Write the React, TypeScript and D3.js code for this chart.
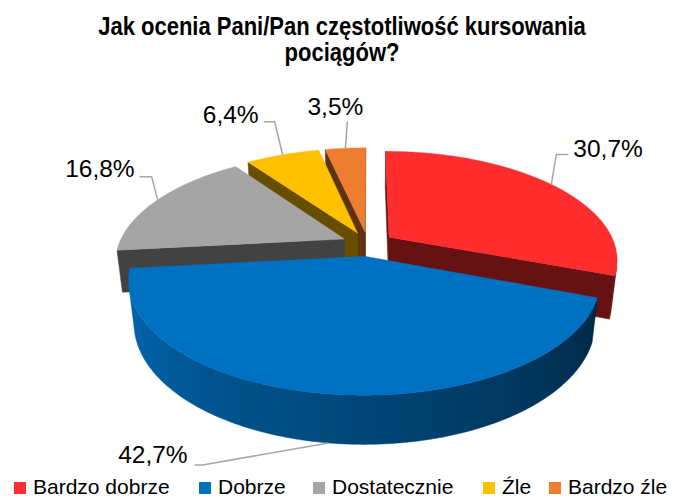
import React from 'react';
import * as d3 from 'd3';

// ---- data ----
const categories = ['Bardzo dobrze', 'Dobrze', 'Dostatecznie', 'Źle', 'Bardzo źle'];
const values = [30.7, 42.7, 16.8, 6.4, 3.5];
const valueLabels = ['30,7%', '42,7%', '16,8%', '6,4%', '3,5%'];
const colors = ['#FF2D2D', '#0070C0', '#A5A5A5', '#FFC000', '#ED7D31'];
const titleLines = ['Jak ocenia Pani/Pan częstotliwość kursowania', 'pociągów?'];

// ---- layout ----
const W = 681, H = 498;
const CX = 368, CY = 244, FX = 1002, FY = 1016, D = 4.44, SA = 0.461, CA = 0.887, T = 0.21, EXPLODE = 0.115;
const CAM = [0, D * SA, D * CA];
// label leader layout relative to the slice anchor point: [elbow dx, dy, end dx, dy, text dx, dy, anchor, useBottom]
const labelLayout: [number, number, number, number, number, number, string, boolean][] = [
  [5, -30, 17, -30, 22, -27, 'start', false],
  [-126, 22, -134, 22, -141, 20, 'end', true],
  [-6, -23, -18, -23, -23, -23, 'end', false],
  [-8, -33, -19, -33, -24, -32, 'end', false],
  [2, -27, 2, -27, -10, -33, 'middle', false],
];
const legendX = [14, 199, 313, 483, 549];

function project(u: number, v: number, y: number): [number, number] {
  const d = D - (v * CA + y * SA);
  const sy = v * SA - y * CA;
  return [CX + (FX * u) / d, CY + (FY * sy) / d];
}

function shade(c: string, f: number) {
  const r = d3.rgb(c);
  return d3.rgb(r.r * f, r.g * f, r.b * f).formatHex();
}

function visible(n: number[], p: number[]) {
  const t = [CAM[0] - p[0], CAM[1] - p[1], CAM[2] - p[2]];
  return n[0] * t[0] + n[1] * t[1] + n[2] * t[2] > 0;
}

const line = d3.line();

export default function App() {
  const arcs = d3.pie<number>().sort(null).value((d) => d)(values);

  const slices = arcs.map((a, i) => {
    const mid = (a.startAngle + a.endAngle) / 2;
    const ox = EXPLODE * Math.sin(mid);
    const oz = -EXPLODE * Math.cos(mid);
    const pt = (th: number, r: number, y: number) => project(ox + r * Math.sin(th), oz - r * Math.cos(th), y);
    const world = (th: number, r: number, y: number) => [ox + r * Math.sin(th), y, oz - r * Math.cos(th)];
    const n = Math.max(4, Math.ceil(((a.endAngle - a.startAngle) * 180) / Math.PI) * 2);
    const ths = d3.range(n + 1).map((k) => a.startAngle + ((a.endAngle - a.startAngle) * k) / n);
    const faces: { d: string; fill: string; stops?: { o: number; c: string }[]; x0?: number; x1?: number }[] = [];
    const t0 = a.startAngle, t1 = a.endAngle;
    const nStart = [-Math.cos(t0), 0, -Math.sin(t0)];
    if (visible(nStart, world(t0, 0.5, -T / 2))) {
      faces.push({
        d: line([pt(t0, 0, 0), pt(t0, 1, 0), pt(t0, 1, -T), pt(t0, 0, -T)])! + 'Z',
        fill: shade(colors[i], 0.4),
      });
    }
    const nEnd = [Math.cos(t1), 0, Math.sin(t1)];
    if (visible(nEnd, world(t1, 0.5, -T / 2))) {
      faces.push({
        d: line([pt(t1, 0, 0), pt(t1, 1, 0), pt(t1, 1, -T), pt(t1, 0, -T)])! + 'Z',
        fill: shade(colors[i], 0.4),
      });
    }
    // outer wall: visible arc as one polygon with a horizontal gradient
    const vis = ths.filter((th) => visible([Math.sin(th), 0, -Math.cos(th)], world(th, 1, -T / 2)));
    if (vis.length >= 2) {
      const topPts = vis.map((th) => pt(th, 1, 0));
      const botPts = vis.map((th) => pt(th, 1, -T)).reverse();
      const xs = topPts.map((p) => p[0]);
      const x0 = Math.min(...xs), x1 = Math.max(...xs);
      const stops = vis
        .map((th, k) => {
          const deg = (th * 180) / Math.PI;
          const f = Math.max(0.3, Math.min(0.92, 0.33 + ((deg - 105) / 150) * 0.59));
          return { o: (topPts[k][0] - x0) / Math.max(1, x1 - x0), c: shade(colors[i], f) };
        })
        .sort((p, q) => p.o - q.o);
      faces.push({ d: line([...topPts, ...botPts])! + 'Z', fill: '', stops, x0, x1 });
    }
    const top = line([pt(0, 0, 0), ...ths.map((th) => pt(th, 1, 0))])! + 'Z';
    const anchor = labelLayout[i][7] ? pt(mid, 1, -T) : pt(mid, 1, 0);
    return { i, depth: -Math.cos(mid), faces, top, anchor };
  });

  const order = [...slices].sort((a, b) => a.depth - b.depth);

  return (
    <svg width={W} height={H} style={{ position: 'absolute', left: 0, top: 0, background: '#fff' }}>
      <defs>
        {slices.map((s) =>
          s.faces.map((f, k) =>
            f.stops ? (
              <linearGradient key={`g${s.i}-${k}`} id={`g${s.i}-${k}`} gradientUnits="userSpaceOnUse" x1={f.x0} x2={f.x1} y1={0} y2={0}>
                {f.stops.map((st, j) => (
                  <stop key={j} offset={st.o} stopColor={st.c} />
                ))}
              </linearGradient>
            ) : null
          )
        )}
      </defs>
      <rect width={W} height={H} fill="#fff" />
      {titleLines.map((t, k) => (
        <text
          key={k}
          transform={`translate(342,${35 + k * 26}) scale(0.88,1)`}
          textAnchor="middle"
          fontFamily="'Liberation Sans', Arial, sans-serif"
          fontWeight="bold"
          fontSize={25}
          fill="#000"
        >
          {t}
        </text>
      ))}
      {order.map((s) => (
        <g key={s.i}>
          {s.faces.map((f, k) => {
            const fill = f.stops ? `url(#g${s.i}-${k})` : f.fill;
            return <path key={k} d={f.d} fill={fill} stroke={fill} strokeWidth={0.5} strokeLinejoin="round" />;
          })}
          <path d={s.top} fill={colors[s.i]} stroke={colors[s.i]} strokeWidth={0.4} />
        </g>
      ))}
      {slices.map((s) => {
        const L = labelLayout[s.i];
        const [ax, ay] = s.anchor;
        return (
          <g key={'l' + s.i}>
            <path
              d={line([[ax, ay], [ax + L[0], ay + L[1]], [ax + L[2], ay + L[3]]])!}
              fill="none"
              stroke="#A6A6A6"
              strokeWidth={1.5}
            />
            <text
              x={ax + L[4]}
              y={ay + L[5]}
              textAnchor={L[6]}
              fontFamily="'Liberation Sans', Arial, sans-serif"
              fontSize={24.5}
              fill="#000"
            >
              {valueLabels[s.i]}
            </text>
          </g>
        );
      })}
      {categories.map((c, i) => (
        <g key={'lg' + i}>
          <rect x={legendX[i]} y={482} width={12} height={12} fill={colors[i]} />
          <text
            x={legendX[i] + 19}
            y={494}
            fontFamily="'Liberation Sans', Arial, sans-serif"
            fontSize={21}
            fill="#000"
          >
            {c}
          </text>
        </g>
      ))}
    </svg>
  );
}
